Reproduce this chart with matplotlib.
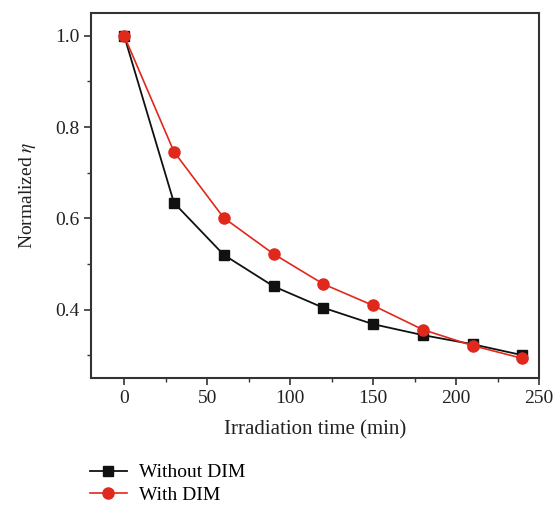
import matplotlib
matplotlib.use("Agg")
import matplotlib.pyplot as plt
from matplotlib.ticker import MultipleLocator

time_min = [0, 30, 60, 90, 120, 150, 180, 210, 240]
without_dim = [1.0, 0.634, 0.520, 0.451, 0.404, 0.368, 0.344, 0.324, 0.300]
with_dim = [1.0, 0.746, 0.601, 0.522, 0.456, 0.409, 0.356, 0.321, 0.293]

plt.rcParams['font.family'] = ['Liberation Serif', 'DejaVu Serif']
plt.rcParams['mathtext.fontset'] = 'stix'

fig = plt.figure(figsize=(5.56, 5.05), dpi=100)
ax = fig.add_axes([91/556, 1-378/505, (539-91)/556, (378-13)/505])

l1, = ax.plot(time_min, without_dim, color='#111111', lw=1.3, marker='s', ms=7,
              label='Without DIM', zorder=3)
l2, = ax.plot(time_min, with_dim, color='#e0281c', lw=1.2, marker='o', ms=8,
              label='With DIM', zorder=4)

ax.set_xlim(-20, 250)
ax.set_ylim(0.25, 1.05)
ax.xaxis.set_major_locator(MultipleLocator(50))
ax.xaxis.set_minor_locator(MultipleLocator(25))
ax.yaxis.set_major_locator(MultipleLocator(0.2))
ax.yaxis.set_minor_locator(MultipleLocator(0.1))
ax.yaxis.set_major_formatter(plt.FuncFormatter(lambda v, p: f"{v:.1f}"))
ax.tick_params(which='both', direction='out', top=False, right=False,
               colors='#333333', labelcolor='#222222')
ax.tick_params(which='major', length=5, width=1.2, labelsize=14)
ax.tick_params(which='minor', length=3, width=1.0)
for s in ax.spines.values():
    s.set_color('#333333')
    s.set_linewidth(1.5)

ax.set_xlabel('Irradiation time (min)', fontsize=15, color='#222222', labelpad=10)
ax.set_ylabel(r'Normalized $\mathit{\eta}$', fontsize=14, color='#222222', labelpad=12)

fig.legend(handles=[l1, l2], loc='upper left', bbox_to_anchor=(82/556, 1-456/505),
           frameon=False, fontsize=14, handlelength=1.9, handletextpad=0.65,
           labelspacing=0.25, borderaxespad=0)

fig.savefig('out.png', dpi=100)
